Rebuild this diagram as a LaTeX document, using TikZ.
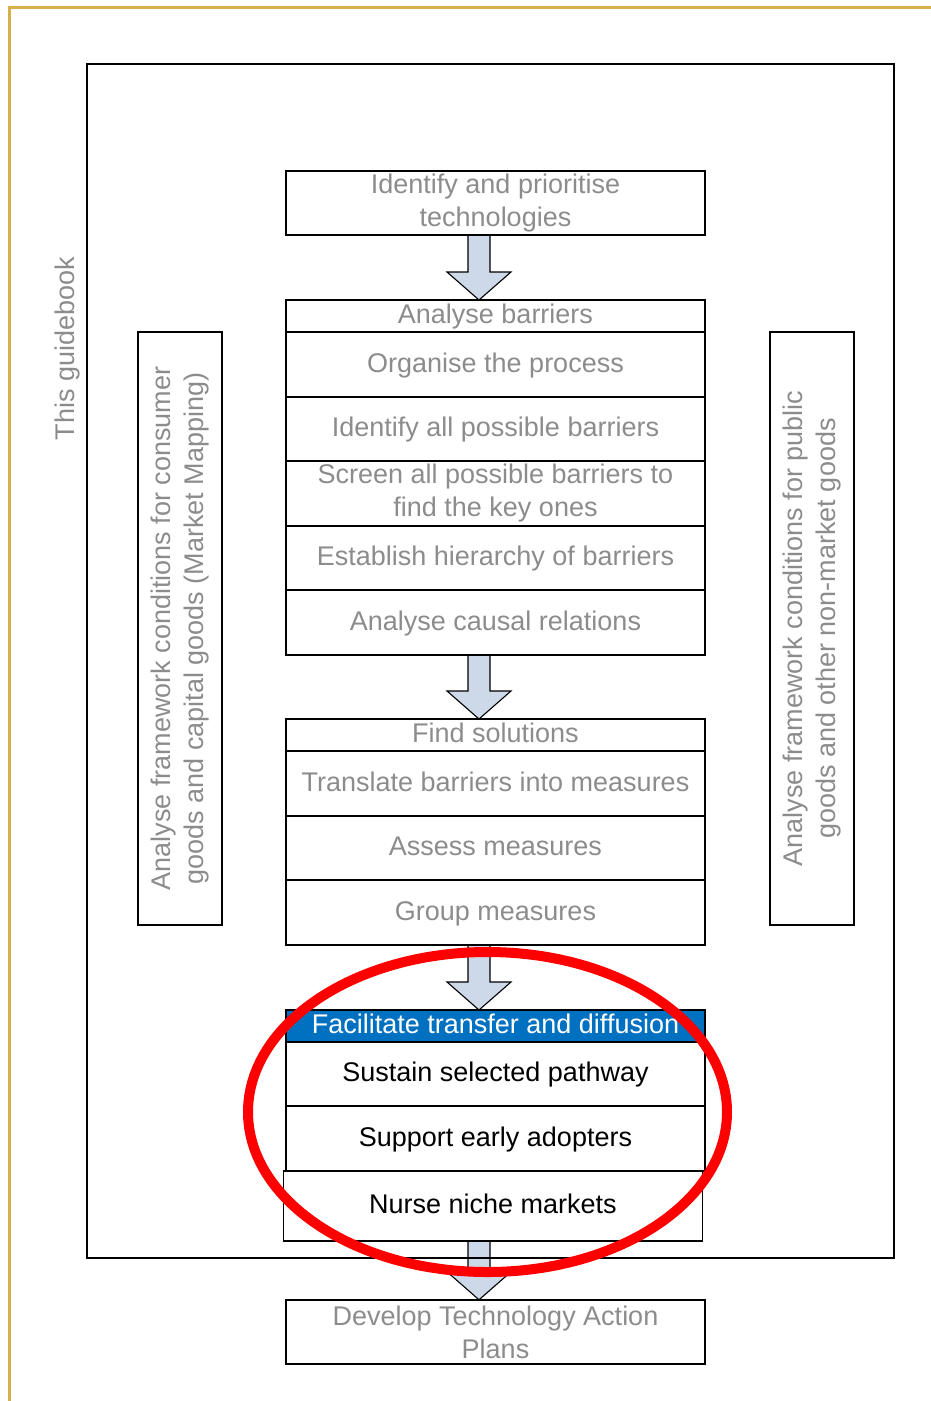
\documentclass[tikz,border=0pt]{standalone}
\usepackage{fontspec}
\setmainfont{Liberation Sans}
\usetikzlibrary{calc,backgrounds}
\definecolor{txtgray}{HTML}{8C8C8C}
\definecolor{arrowblue}{HTML}{CDD9E8}
\definecolor{headblue}{HTML}{0070C0}
\definecolor{pagegold}{HTML}{D6B04A}

\tikzset{
  every node/.style={font=\fontsize{27}{33}\selectfont, inner sep=0pt, outer sep=0pt},
  flowbox/.style={draw=black, line width=1.8pt, text=txtgray, align=center,
                  minimum width=419pt, text height=22pt, text depth=7pt},
  twolines/.style={text height={}, text depth={}},
  headbox/.style={flowbox, minimum height=32pt},
  rowbox/.style={flowbox, minimum height=64.5pt},
  sidebox/.style={draw=black, line width=1.8pt, text=txtgray, align=center,
                  rotate=90, minimum width=593pt, minimum height=84pt},
  arrowshape/.style={draw=black, line width=1.1pt, fill=arrowblue, line join=miter},
  redring/.style={draw=red, line width=10pt},
}

% block arrow from the lower edge of #1 to the upper edge of #2
\newcommand\flowarrow[2]{%
  \begin{scope}[on background layer]
    \coordinate (fa-a) at ($(#2.north)+(-16.5,0)$);
    \coordinate (fa-t) at (fa-a |- #1.south);
    \coordinate (fa-h) at ($(fa-a)+(0,-28)$);
    \draw[arrowshape] ($(fa-t)+(-11,0)$) -- ($(fa-h)+(-11,0)$) -- ($(fa-h)+(-32,0)$)
      -- (fa-a) -- ($(fa-h)+(32,0)$) -- ($(fa-h)+(11,0)$) -- ($(fa-t)+(11,0)$);
  \end{scope}}

\begin{document}
\begin{tikzpicture}[x=1pt, y=-1pt]
  \useasboundingbox (0,0) rectangle (931,1401);

  % page rule
  \draw[pagegold, line width=3pt] (931,7.5) -- (9,7.5) -- (9,1401);

  % outer frame and its label
  \node[draw=black, line width=1.8pt, minimum width=807pt, minimum height=1194pt] (frame) at (490.5,661) {};
  \node[text=txtgray, rotate=90] (guide) at (68,348.5) {This guidebook};

  % side boxes
  \node[sidebox] (left) at (180,628.5)
    {Analyse framework conditions for consumer\\goods and capital goods (Market Mapping)};
  \node[sidebox] (right) at (812,628.5)
    {Analyse framework conditions for public\\goods and other non-market goods};

  % step 1
  \node[rowbox, twolines] (ident) at (495.5,203) {Identify and prioritise\\technologies};

  % step 2
  \node[headbox] (ab) at (495.5,316) {Analyse barriers};
  \node[rowbox] (org) at (495.5,364.5) {Organise the process};
  \node[rowbox] (idb) at (495.5,429) {Identify all possible barriers};
  \node[rowbox, twolines] (scr) at (495.5,493.5) {Screen all possible barriers to\\find the key ones};
  \node[rowbox] (est) at (495.5,558) {Establish hierarchy of barriers};
  \node[rowbox] (acr) at (495.5,622.5) {Analyse causal relations};

  % step 3
  \node[headbox] (fs) at (495.5,735) {Find solutions};
  \node[rowbox] (tbm) at (495.5,783.5) {Translate barriers into measures};
  \node[rowbox] (asm) at (495.5,848) {Assess measures};
  \node[rowbox] (grp) at (495.5,912.5) {Group measures};

  % step 4
  \node[headbox, fill=headblue, text=white] (fac) at (495.5,1026) {Facilitate transfer and diffusion};
  \node[rowbox, text=black] (ssp) at (495.5,1074) {Sustain selected pathway};
  \node[rowbox, text=black] (sea) at (495.5,1138.5) {Support early adopters};
  \node[rowbox, text=black, minimum height=70pt] (nnm) at (493,1206) {Nurse niche markets};

  % step 5
  \node[rowbox, twolines] (tap) at (495.5,1332) {Develop Technology Action\\Plans};

  % arrows between the steps
  \flowarrow{ident}{ab}
  \flowarrow{acr}{fs}
  \flowarrow{grp}{fac}
  \flowarrow{nnm}{tap}

  % emphasis ring
  \draw[redring] (487.5,1112) ellipse [x radius=239.5, y radius=160];
\end{tikzpicture}
\end{document}
